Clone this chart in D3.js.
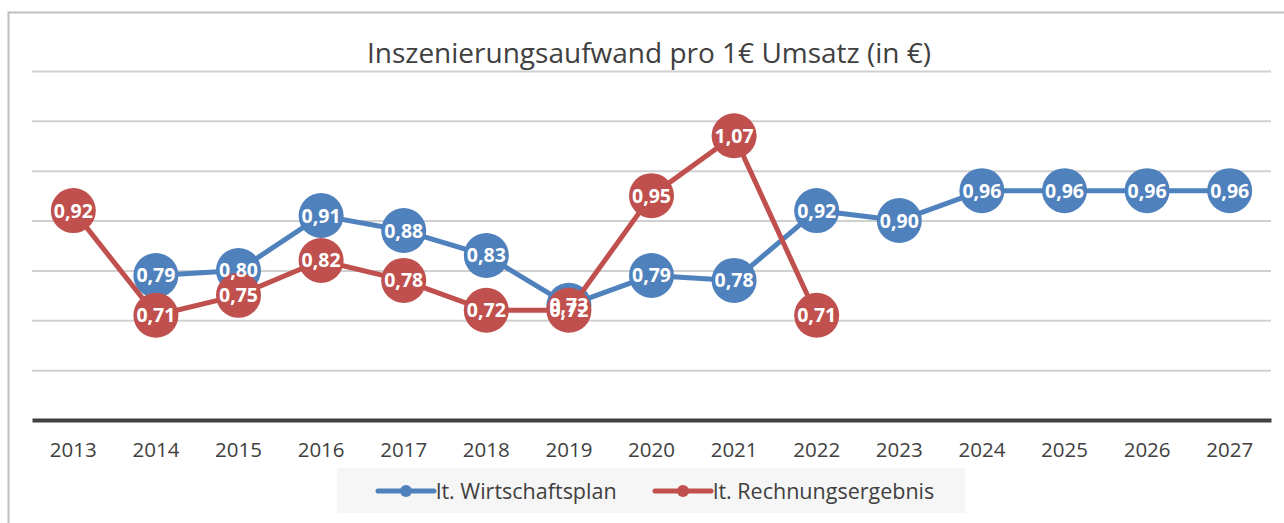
<!DOCTYPE html>
<html>
<head>
<meta charset="utf-8">
<script src="https://cdn.jsdelivr.net/npm/d3@7"></script>
<style>
  body { margin: 0; background: #fff; }
  text { font-family: "Open Sans", "Noto Sans", sans-serif; }
</style>
</head>
<body>
<script>
// Daten
var years = ["2013", "2014", "2015", "2016", "2017", "2018", "2019", "2020",
             "2021", "2022", "2023", "2024", "2025", "2026", "2027"];
var wirtschaftsplan = [null, 0.79, 0.80, 0.91, 0.88, 0.83, 0.73, 0.79,
                       0.78, 0.92, 0.90, 0.96, 0.96, 0.96, 0.96];
var rechnungsergebnis = [0.92, 0.71, 0.75, 0.82, 0.78, 0.72, 0.72, 0.95,
                         1.07, 0.71, null, null, null, null, null];
var gridValues = [0.6, 0.7, 0.8, 0.9, 1.0, 1.1, 1.2];
var seriesNames = ["lt. Wirtschaftsplan", "lt. Rechnungsergebnis"];
var colors = ["#4f81bd", "#c0504d"];

var W = 1284, H = 523;
var plot = {left: 32, right: 1271, top: 71, bottom: 420};

var svg = d3.select("body").append("svg")
    .attr("width", W)
    .attr("height", H);

// Rahmen
svg.append("path")
    .attr("d", "M8.5," + H + " V12.5 H" + W)
    .attr("fill", "none")
    .attr("stroke", "#bfbfbf")
    .attr("stroke-width", 2);

var x = d3.scaleBand().domain(years).range([plot.left, plot.right]);
var y = d3.scaleLinear().domain([0.5, 1.2]).range([plot.bottom, plot.top]);

// Gitterlinien
svg.append("g")
    .attr("transform", "translate(" + plot.left + ",0)")
    .call(d3.axisLeft(y).tickValues(gridValues).tickSize(-(plot.right - plot.left)).tickFormat(""))
    .call(function(g) {
      g.select(".domain").remove();
      g.selectAll(".tick line").attr("stroke", "#d0d0d0").attr("stroke-width", 2);
    });

// X-Achse
svg.append("g")
    .attr("transform", "translate(0," + plot.bottom + ")")
    .call(d3.axisBottom(x).tickSize(0).tickPadding(22))
    .call(function(g) {
      g.select(".domain").attr("stroke", "#404040").attr("stroke-width", 4);
      g.selectAll(".tick text")
        .attr("fill", "#404040")
        .style("font-size", "20.5px")
        .style("font-family", "'Open Sans', sans-serif");
    });

// Titel
svg.append("text")
    .attr("x", 649)
    .attr("y", 63)
    .attr("text-anchor", "middle")
    .attr("fill", "#404040")
    .style("font-size", "28px")
    .text("Inszenierungsaufwand pro 1€ Umsatz (in €)");

var line = d3.line()
    .defined(function(d) { return d != null; })
    .x(function(d, i) { return x(years[i]) + x.bandwidth() / 2; })
    .y(function(d) { return y(d); });

var fmt = function(v) { return d3.format(".2f")(v).replace(".", ","); };

var allSeries = [wirtschaftsplan, rechnungsergebnis].map(function(data, s) {
  return data.map(function(v, i) { return {v: v, i: i, s: s}; })
      .filter(function(d) { return d.v != null; });
});

// Linien und Markierungen
[wirtschaftsplan, rechnungsergebnis].forEach(function(data, s) {
  svg.append("path")
      .datum(data)
      .attr("d", line)
      .attr("fill", "none")
      .attr("stroke", colors[s])
      .attr("stroke-width", 5)
      .attr("stroke-linejoin", "round");

  svg.append("g").selectAll("circle")
      .data(allSeries[s])
    .enter().append("circle")
      .attr("cx", function(d) { return x(years[d.i]) + x.bandwidth() / 2; })
      .attr("cy", function(d) { return y(d.v); })
      .attr("r", 22.5)
      .attr("fill", colors[s]);
});

// Datenbeschriftungen
svg.append("g").selectAll("text")
    .data(allSeries[0].concat(allSeries[1]))
  .enter().append("text")
    .attr("x", function(d) { return x(years[d.i]) + x.bandwidth() / 2; })
    .attr("y", function(d) { return y(d.v) + 7; })
    .attr("text-anchor", "middle")
    .attr("fill", "#fff")
    .style("font-size", "19.5px")
    .style("font-weight", "bold")
    .text(function(d) { return fmt(d.v); });

// Legende
svg.append("rect")
    .attr("x", 337).attr("y", 468)
    .attr("width", 628).attr("height", 45)
    .attr("fill", "#f6f6f6");

var legendX = [378, 655];
seriesNames.forEach(function(name, s) {
  var lg = svg.append("g").attr("transform", "translate(" + legendX[s] + ",491)");
  lg.append("line")
      .attr("x1", 0).attr("x2", 56)
      .attr("stroke", colors[s])
      .attr("stroke-width", 5)
      .attr("stroke-linecap", "round");
  lg.append("circle")
      .attr("cx", 28).attr("r", 6)
      .attr("fill", colors[s]);
  lg.append("text")
      .attr("x", 58).attr("y", 7.5)
      .attr("fill", "#404040")
      .style("font-size", "21.5px")
      .text(name);
});

window.addEventListener('unload', function () {
    document.documentElement.innerHTML = '';
});
</script>
</body>
</html>
